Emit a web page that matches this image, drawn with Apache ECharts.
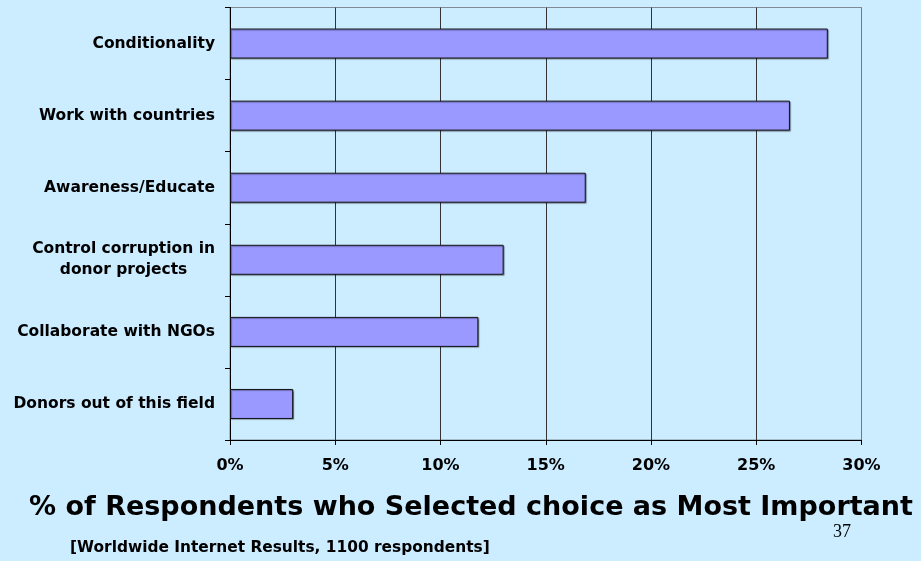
<!DOCTYPE html>
<html><head><meta charset="utf-8">
<script src="https://cdn.jsdelivr.net/npm/echarts@6/dist/echarts.min.js"></script>
<style>html,body{margin:0;padding:0;background:#CCECFF;}#c{width:921px;height:561px;}</style>
</head><body><div id="c"></div>
<script>
const categories = ['Conditionality','Work with countries','Awareness/Educate','Control corruption in\ndonor projects','Collaborate with NGOs','Donors out of this field'];
const values = [0.284, 0.266, 0.169, 0.130, 0.118, 0.030];
const xTicks = [0, 0.05, 0.10, 0.15, 0.20, 0.25, 0.30];
const titleText = '% of Respondents who Selected choice as Most Important';
const subText = '[Worldwide Internet Results, 1100 respondents]';
const pageNum = '37';

const FONT = '"DejaVu Sans", "Liberation Sans", Arial, sans-serif';
const chart = echarts.init(document.getElementById('c'), null, {renderer:'canvas'});
chart.setOption({
  backgroundColor: '#CCECFF',
  animation: false,
  grid: {left: 230, right: 59.5, top: 7.5, bottom: 121, show: true, borderColor: '#7f8a95', borderWidth: 1, backgroundColor: 'transparent'},
  xAxis: {
    type: 'value', min: xTicks[0], max: xTicks[xTicks.length-1], interval: 0.05,
    axisLine: {show: true, lineStyle: {color: '#000', width: 1}},
    axisTick: {show: true, length: 5, lineStyle: {color: '#000'}},
    axisLabel: {margin: 18, fontFamily: FONT, fontWeight: 'bold', fontSize: 16, lineHeight: 16, color: '#000',
      formatter: v => Math.round(v*100) + '%'},
    splitLine: {show: true, lineStyle: {color: ['#000','#333','#333','#333','#333','#333','#6f7a85'], width: 1}}
  },
  yAxis: {
    type: 'category', data: categories, inverse: true,
    axisLine: {show: true, lineStyle: {color: '#000', width: 1}},
    axisTick: {show: true, length: 5, alignWithLabel: false, lineStyle: {color: '#000'}},
    axisLabel: {margin: 15, fontFamily: FONT, fontWeight: 'bold', fontSize: 15.5, color: '#000',
      align: 'right', lineHeight: 21,
      formatter: v => v.indexOf('\n') >= 0 ? v.split('\n').map(s => '{c|' + s + '}').join('\n') : v,
      rich: {c: {align: 'center', fontFamily: FONT, fontWeight: 'bold', fontSize: 15.5, lineHeight: 21, color: '#000'}}},
    splitLine: {show: false}
  },
  series: [{
    type: 'bar', data: values, barWidth: 30,
    itemStyle: {color: '#9999FF', borderColor: '#111', borderWidth: 1,
      shadowColor: 'rgba(0,0,0,0.35)', shadowOffsetX: 1, shadowOffsetY: 1, shadowBlur: 1}
  }],
  graphic: [
    {type: 'text', style: {x: 471, y: 508, align: 'center', verticalAlign: 'middle', text: titleText,
      font: 'bold 27px ' + FONT, fill: '#000'}},
    {type: 'text', style: {x: 833, y: 532, align: 'left', verticalAlign: 'middle', text: pageNum,
      font: '18px "Liberation Serif", "Times New Roman", serif', fill: '#000'}},
    {type: 'text', style: {x: 70, y: 548, align: 'left', verticalAlign: 'middle', text: subText,
      font: 'bold 15.4px ' + FONT, fill: '#000'}}
  ]
});
</script></body></html>
